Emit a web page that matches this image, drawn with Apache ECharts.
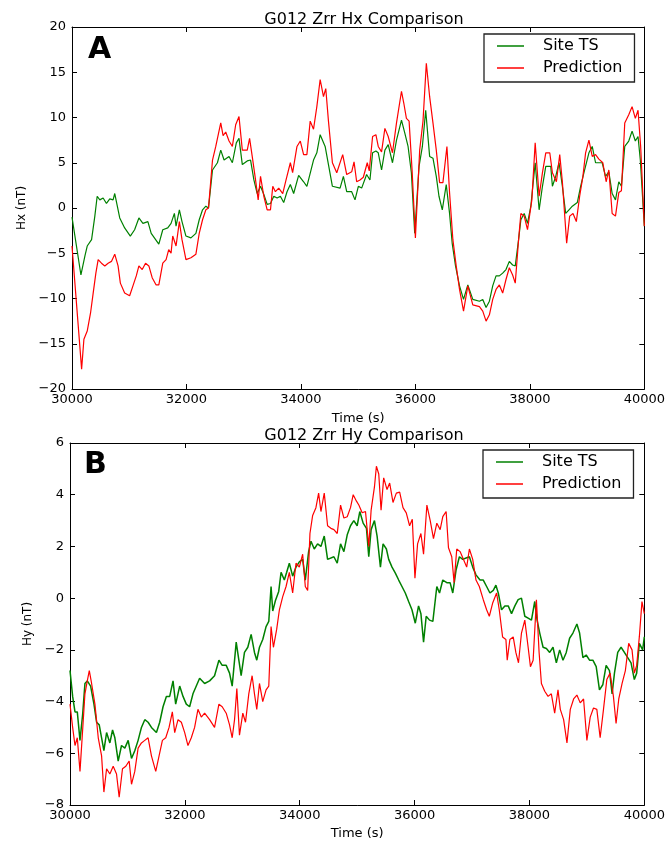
<!DOCTYPE html>
<html>
<head>
<meta charset="utf-8">
<script src="https://cdn.jsdelivr.net/npm/echarts@6/dist/echarts.min.js"></script>
<style>
html,body{margin:0;padding:0;background:#fff;}
#chart{width:668px;height:841px;}
</style>
</head>
<body>
<div id="chart"></div>
<script>
// ---------- data (time in s, field in nT) ----------
const xTicks = [30000, 32000, 34000, 36000, 38000, 40000];
const seriesNames = ['Site TS', 'Prediction'];
const titles = ['G012 Zrr Hx Comparison', 'G012 Zrr Hy Comparison'];

// Panel A: Hx
const hxSiteT = [30000,30156,30226,30266,30342,30399,30440,30486,30544,30602,30660,30718,30747,30834,30920,31019,31094,31169,31239,31326,31384,31517,31586,31673,31731,31789,31818,31876,31922,31991,32078,32165,32223,32281,32339,32385,32455,32541,32599,32657,32744,32802,32871,32918,32976,33062,33120,33178,33236,33294,33352,33410,33468,33526,33584,33641,33699,33757,33815,33873,33960,34047,34104,34220,34278,34336,34423,34481,34550,
34684,34742,34800,34887,34945,35003,35061,35148,35206,35252,35310,35351,35409,35467,35525,35600,35670,35757,35814,35872,35930,35988,36064,36122,36180,36249,36307,36365,36412,36470,36539,36597,36643,36701,36771,36841,36916,37003,37119,37177,37235,37293,37351,37409,37467,37525,37583,37641,37699,37745,37803,37843,37901,37959,38017,38093,38162,38220,38278,38365,38394,38452,38510,38568,38626,38684,38742,38829,38887,38945,39032,39090,39148,39206,39264,39322,39380,39438,39496,39554,39600,39658,39728,39786,39843,39890,39930,40000];
const hxSiteV = [-1.0,-7.4,-5.3,-4.2,-3.5,-0.9,1.3,0.9,1.1,0.5,1.0,0.9,1.6,-1.1,-2.2,-3.1,-2.4,-1.1,-1.7,-1.5,-2.8,-4.0,-2.4,-2.2,-1.7,-0.6,-2.0,-0.2,-1.5,-3.1,-3.3,-2.8,-1.3,-0.2,0.2,0.0,4.2,5.0,6.4,5.3,5.7,5.0,7.2,7.7,4.8,5.2,5.3,3.1,1.6,2.4,1.5,0.4,0.5,1.3,1.1,1.3,0.6,1.8,2.6,1.6,3.6,2.9,2.4,5.3,6.1,8.1,6.8,4.8,2.4,
2.2,3.5,1.8,1.8,0.9,2.4,2.2,3.7,3.1,6.1,6.3,6.1,4.2,6.4,7.0,5.0,7.5,9.7,8.3,6.8,3.9,-2.8,4.6,6.8,10.8,5.7,5.5,3.5,1.3,-0.2,2.6,-0.6,-3.9,-6.4,-8.6,-10.1,-8.5,-10.1,-10.3,-10.1,-11.0,-10.3,-8.6,-7.5,-7.5,-7.2,-6.8,-5.9,-6.3,-6.4,-3.5,-1.3,-0.6,-1.7,0.2,5.0,-0.2,2.4,4.6,4.6,2.4,3.5,5.0,2.4,-0.6,-0.2,0.2,0.6,2.4,3.9,6.1,6.8,5.0,5.0,5.0,3.5,4.0,1.6,0.9,2.9,2.4,6.8,7.4,8.5,7.4,7.9,5.3,-2.0];

const hxPredT = [30000,30168,30208,30266,30324,30370,30417,30457,30515,30573,30631,30689,30747,30805,30845,30920,31007,31065,31123,31169,31227,31285,31343,31401,31470,31517,31586,31644,31690,31731,31760,31818,31876,31922,31991,32078,32165,32223,32281,32339,32385,32455,32512,32599,32640,32686,32744,32802,32860,32918,32976,33062,33103,33149,33207,33253,33294,33352,33410,33468,33508,33554,33612,33682,33740,33815,33855,33931,33989,34047,34104,34162,34220,34278,34336,34394,34434,34481,34550,
34626,34730,34800,34887,34928,34974,35032,35090,35159,35194,35252,35310,35351,35409,35467,35525,35600,35670,35757,35797,35843,35890,35942,36000,36075,36133,36191,36249,36307,36365,36423,36481,36551,36597,36655,36713,36771,36841,36916,37003,37119,37177,37235,37293,37351,37409,37467,37525,37583,37641,37699,37745,37803,37843,37901,37959,38035,38093,38162,38220,38278,38348,38394,38464,38522,38568,38643,38696,38754,38812,38870,38927,38974,39032,39090,39148,39206,39275,39333,39380,39438,39496,39554,39600,39658,39728,39786,39843,39890,39936,40000];
const hxPredV = [-4.2,-17.8,-14.5,-13.6,-11.6,-9.4,-7.2,-5.7,-6.1,-6.4,-6.1,-5.9,-5.1,-6.4,-8.3,-9.4,-9.7,-8.6,-7.5,-6.4,-6.8,-6.1,-6.4,-7.7,-8.5,-8.5,-6.1,-5.7,-4.6,-5.0,-3.1,-4.2,-1.5,-3.5,-5.7,-5.5,-5.1,-2.8,-1.3,-0.2,0.0,5.3,6.8,9.4,8.0,8.4,7.4,6.8,9.2,10.1,6.4,6.4,7.7,5.7,3.1,0.9,3.5,1.3,-0.2,-0.2,2.4,1.8,2.2,1.6,3.1,5.0,3.9,6.8,7.4,5.9,5.9,9.6,8.7,11.2,14.2,12.3,13.2,9.6,5.0,
3.9,5.9,3.7,4.0,5.1,2.9,3.1,3.4,5.0,4.1,7.9,8.1,6.8,6.2,8.8,7.9,6.1,9.4,12.9,11.6,9.9,9.6,4.2,-3.3,6.4,9.6,16.0,12.3,9.4,6.4,2.8,2.8,6.8,1.7,-3.5,-6.4,-9.0,-11.4,-8.6,-10.7,-10.9,-11.4,-12.5,-11.8,-10.1,-9.0,-8.5,-9.4,-7.9,-6.6,-7.4,-8.3,-3.5,-0.6,-0.9,-2.4,0.9,7.2,1.3,3.9,6.1,6.1,3.9,2.9,5.9,2.9,-3.9,-0.9,-0.6,-1.5,1.3,3.5,6.1,7.5,5.7,5.9,5.4,5.0,2.9,4.2,-0.6,-0.9,1.7,1.9,9.4,10.3,11.2,9.9,10.8,6.8,-2.0];

// Panel B: Hy
const hySiteT = [30000,30046,30087,30127,30174,30220,30260,30301,30359,30417,30463,30509,30550,30590,30637,30694,30741,30781,30839,30897,30955,31013,31071,31128,31186,31244,31302,31360,31418,31505,31562,31620,31678,31736,31794,31840,31910,31968,32025,32083,32141,32199,32257,32344,32431,32517,32593,32650,32720,32778,32824,32894,32940,32980,33038,33096,33154,33212,33252,33299,33356,33414,33461,33501,33530,33576,33634,33675,33732,33773,33819,33877,33935,33993,34051,34097,34155,34196,34253,34311,34369,34427,34485,
34595,34653,34711,34769,34827,34884,34942,35000,35046,35104,35162,35202,35243,35301,35347,35405,35451,35509,35549,35607,35665,35723,35780,35838,35896,35954,36012,36069,36110,36156,36202,36260,36318,36387,36434,36491,36561,36618,36665,36723,36780,36838,36896,36954,37012,37069,37139,37196,37254,37312,37370,37416,37457,37514,37572,37630,37688,37746,37803,37861,37919,37977,38035,38092,38133,38179,38237,38295,38352,38410,38468,38526,38584,38641,38699,38757,38826,38873,38931,38988,39046,39104,39162,39219,39277,39335,39393,39439,39480,39537,39595,39653,39711,39769,39826,39867,39913,39971,40000];
const hySiteV = [-2.8,-3.8,-4.4,-4.4,-5.5,-4.5,-3.3,-3.2,-3.4,-4.1,-4.8,-4.9,-5.4,-5.9,-5.2,-5.6,-5.1,-5.4,-6.3,-5.7,-5.8,-5.5,-6.2,-5.9,-5.5,-5.0,-4.7,-4.8,-5.0,-5.2,-4.8,-4.2,-3.8,-3.8,-3.2,-4.1,-3.4,-3.8,-4.1,-4.2,-3.7,-3.4,-3.1,-3.3,-3.2,-3.0,-2.4,-2.6,-2.6,-2.9,-3.4,-1.7,-2.4,-3.0,-2.1,-1.9,-1.4,-2.1,-2.4,-1.9,-1.6,-1.1,-0.9,0.45,-0.5,-0.1,0.26,1.0,0.7,1.0,1.35,0.85,1.2,1.4,1.5,0.7,1.8,2.2,1.9,2.1,2.0,2.4,1.5,
1.6,1.35,2.1,1.8,2.45,2.8,3.0,2.8,3.35,2.9,2.7,1.6,2.65,3.0,2.4,1.2,2.1,1.9,1.5,1.2,0.97,0.7,0.45,0.2,-0.13,-0.45,-0.97,-0.3,-0.6,-1.7,-0.7,-0.85,-0.9,0.45,0.2,0.7,0.6,0.6,0.2,1.1,1.6,1.5,1.55,1.6,1.2,0.9,0.7,0.7,0.45,0.2,0.3,0.5,0.2,-0.45,-0.3,-0.3,-0.6,-0.3,-0.06,0.0,-0.7,-0.77,-0.85,-0.13,-0.85,-1.35,-1.9,-1.95,-2.1,-1.9,-2.5,-2.0,-2.4,-2.1,-1.55,-1.35,-1.0,-1.35,-2.3,-2.2,-2.4,-2.4,-2.65,-3.55,-3.35,-2.6,-2.8,-3.7,-2.9,-2.1,-1.9,-2.1,-2.3,-2.5,-3.15,-2.9,-1.75,-2.0,-1.5];

const hyPredT = [30000,30046,30087,30127,30174,30220,30260,30301,30336,30376,30434,30492,30550,30590,30637,30694,30752,30810,30856,30914,30972,31030,31071,31128,31186,31244,31302,31360,31418,31493,31551,31609,31667,31725,31782,31823,31881,31939,31997,32054,32112,32170,32228,32286,32344,32431,32517,32593,32650,32720,32778,32824,32865,32905,32951,33009,33056,33113,33171,33212,33252,33299,33356,33414,33461,33501,33542,33599,33646,33704,33762,33819,33877,33935,33993,34051,34097,34138,34178,34225,34282,34329,34369,34427,34485,34543,
34595,34653,34711,34769,34827,34884,34931,34988,35029,35087,35145,35202,35243,35301,35335,35376,35416,35462,35520,35566,35624,35682,35740,35798,35855,35913,35960,36006,36052,36110,36156,36214,36272,36329,36387,36445,36491,36549,36590,36647,36688,36734,36792,36850,36907,36954,37012,37069,37127,37196,37254,37301,37358,37428,37474,37532,37590,37613,37659,37717,37763,37809,37861,37919,37977,38017,38064,38121,38168,38208,38266,38324,38381,38439,38497,38537,38595,38653,38711,38769,38826,38884,38942,39000,39058,39115,39173,39231,39289,39347,39404,39462,39508,39555,39613,39670,39728,39786,39826,39867,39913,39959,40000];
const hyPredV = [-4.1,-5.0,-5.7,-5.4,-6.7,-5.1,-3.7,-3.2,-2.8,-3.3,-4.1,-5.4,-6.1,-7.5,-6.6,-6.8,-6.5,-6.8,-7.7,-6.6,-6.5,-6.3,-7.2,-6.7,-5.8,-5.6,-5.5,-5.4,-6.1,-6.7,-6.1,-5.5,-5.4,-5.0,-4.4,-5.2,-4.7,-4.8,-5.2,-5.7,-5.4,-5.0,-4.3,-4.6,-4.45,-4.7,-5.0,-4.1,-4.2,-4.45,-4.9,-5.4,-4.7,-3.5,-5.3,-4.45,-4.8,-3.7,-3.0,-3.7,-4.3,-3.3,-4.0,-3.55,-3.4,-1.1,-1.9,-1.2,-0.45,0.06,0.45,1.0,0.2,1.35,1.2,1.7,0.45,0.3,2.5,3.2,3.5,4.06,3.35,4.06,2.8,2.7,
2.65,2.5,3.6,3.1,3.15,3.5,4.0,3.75,3.6,3.3,3.35,2.0,3.4,4.3,5.1,4.8,3.4,4.65,4.2,4.45,3.7,4.06,4.1,3.5,3.3,2.8,3.05,0.77,2.1,2.5,1.7,3.6,3.0,2.3,2.9,2.65,3.15,3.35,1.95,1.6,0.6,1.9,1.8,1.5,1.2,1.9,1.5,0.7,0.45,-0.06,-0.45,-0.7,-0.2,0.2,-0.45,-1.5,-1.6,-2.4,-1.6,-1.5,-2.1,-2.5,-1.35,-0.85,-1.9,-2.65,-2.4,-0.06,-2.1,-3.3,-3.6,-3.8,-3.7,-4.45,-3.55,-4.3,-4.7,-5.6,-4.3,-3.9,-3.75,-4.05,-3.9,-5.5,-4.6,-4.25,-4.3,-5.4,-4.3,-3.15,-2.9,-3.8,-4.85,-3.9,-3.3,-2.8,-1.75,-2.0,-2.9,-2.6,-1.5,-0.13,-0.6];

// ---------- chart ----------
const FONT = 'DejaVu Sans';
const zip = (t, v) => t.map((x, i) => [x, v[i]]);
const minus = v => String(v).replace('-', '\u2212');

const grids = [
  {left: 72, top: 27, width: 574, height: 362},
  {left: 70, top: 443, width: 576, height: 364}
];
const yRanges = [{min: -20, max: 20, interval: 5}, {min: -8, max: 6, interval: 2}];
const yNames = ['Hx (nT)', 'Hy (nT)'];

const xAxes = [], yAxes = [];
grids.forEach((g, i) => {
  const tick = {show: true, inside: true, length: 5, lineStyle: {color: '#000', width: 1}};
  const line = {show: true, onZero: false, lineStyle: {color: '#000', width: 1}};
  xAxes.push({
    type: 'value', gridIndex: i, min: xTicks[0], max: xTicks[xTicks.length - 1], interval: 2000,
    position: 'bottom', axisLine: line, axisTick: tick, splitLine: {show: false},
    axisLabel: {color: '#000', fontFamily: FONT, fontSize: 13, margin: 4, formatter: v => String(v)},
    name: 'Time (s)', nameLocation: 'middle', nameGap: i === 0 ? 23 : 22,
    nameTextStyle: {color: '#000', fontFamily: FONT, fontSize: 13}
  });
  xAxes.push({
    type: 'value', gridIndex: i, min: xTicks[0], max: xTicks[xTicks.length - 1], interval: 2000,
    position: 'top', axisLine: line, axisTick: tick, splitLine: {show: false}, axisLabel: {show: false}
  });
  yAxes.push({
    type: 'value', gridIndex: i, min: yRanges[i].min, max: yRanges[i].max, interval: yRanges[i].interval,
    position: 'left', axisLine: line, axisTick: tick, splitLine: {show: false},
    axisLabel: {color: '#000', fontFamily: FONT, fontSize: 13, margin: 6, formatter: minus},
    name: yNames[i], nameLocation: 'middle', nameGap: i === 0 ? 43 : 33,
    nameTextStyle: {color: '#000', fontFamily: FONT, fontSize: 12}
  });
  yAxes.push({
    type: 'value', gridIndex: i, min: yRanges[i].min, max: yRanges[i].max, interval: yRanges[i].interval,
    position: 'right', axisLine: line, axisTick: tick, splitLine: {show: false}, axisLabel: {show: false}
  });
});

const mk = (name, data, color, xi, yi, w) => ({
  name, type: 'line', data, xAxisIndex: xi, yAxisIndex: yi,
  symbol: 'none', showSymbol: false, animation: false,
  lineStyle: {color, width: w}, itemStyle: {color}
});

const legendCommon = {
  orient: 'vertical', itemWidth: 27, itemHeight: 1.5, itemGap: 0, icon: 'rect',
  data: seriesNames, selectedMode: false,
  borderColor: '#222', borderWidth: 1.3, borderRadius: 0,
  padding: [1, 12, 3, 13],
  textStyle: {color: '#000', fontFamily: FONT, fontSize: 16, lineHeight: 22, padding: [0, 0, 0, 14]}
};

const option = {
  backgroundColor: '#fff',
  animation: false,
  title: titles.map((t, i) => ({
    text: t, left: 359, textAlign: 'center', top: i === 0 ? 7 : 423,
    textStyle: {color: '#000', fontFamily: FONT, fontSize: 16, fontWeight: 'normal'}
  })),
  legend: [
    Object.assign({left: 484, top: 34}, legendCommon),
    Object.assign({left: 483, top: 450}, legendCommon)
  ],
  grid: grids,
  xAxis: xAxes,
  yAxis: yAxes,
  graphic: [
    {type: 'text', left: 88, top: 35, style: {text: 'A', font: 'bold 30px "DejaVu Sans"', fill: '#000'}},
    {type: 'text', left: 84, top: 450, style: {text: 'B', font: 'bold 30px "DejaVu Sans"', fill: '#000'}}
  ],
  series: [
    mk(seriesNames[0], zip(hxSiteT, hxSiteV), '#008000', 0, 0, 1.2),
    mk(seriesNames[1], zip(hxPredT, hxPredV), '#ff0000', 0, 0, 1.2),
    mk(seriesNames[0], zip(hySiteT, hySiteV), '#008000', 2, 2, 1.5),
    mk(seriesNames[1], zip(hyPredT, hyPredV), '#ff0000', 2, 2, 1.2)
  ]
};

const chart = echarts.init(document.getElementById('chart'));
chart.setOption(option);
</script>
</body>
</html>
